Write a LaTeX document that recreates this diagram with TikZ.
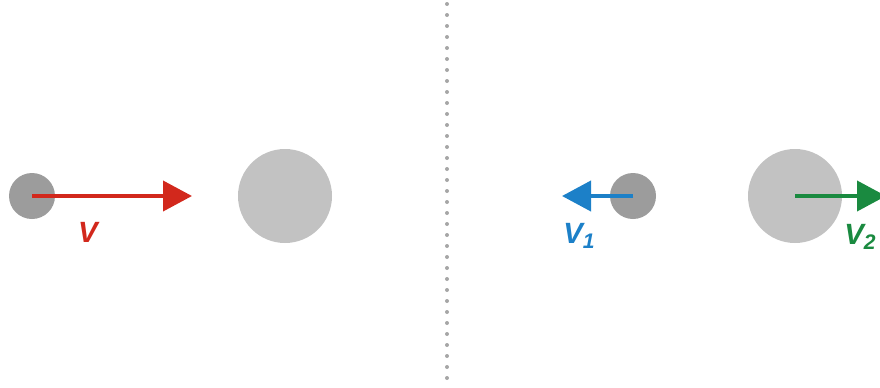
\documentclass[tikz,border=0pt]{standalone}
\usepackage{fontspec}
\setsansfont{Liberation Sans}
\usepackage{tikz}
\usetikzlibrary{positioning,arrows.meta}
\definecolor{ballsmall}{HTML}{9C9C9C}
\definecolor{ballbig}{HTML}{C2C2C2}
\definecolor{velred}{HTML}{D2281C}
\definecolor{velblue}{HTML}{1C80C8}
\definecolor{velgreen}{HTML}{1A8A40}

\begin{document}
\begin{tikzpicture}[
  x=0.03cm, y=-0.03cm,
  font=\sffamily\bfseries\itshape\fontsize{25}{28}\selectfont,
  ball/.style={circle, inner sep=0pt, draw=none},
  small/.style={ball, fill=ballsmall, minimum size=46*0.03cm},
  big/.style={ball, fill=ballbig, minimum size=94*0.03cm},
  vel/.style={-{Triangle[length=29*0.03cm, width=30*0.03cm]}, line width=4*0.03cm},
  lbl/.style={inner sep=0pt},
  sub/.style={},
]
\useasboundingbox (0,0) rectangle (880,387);
\clip (0,0) rectangle (880,387);

% Before the collision
\node[small] (m1) at (32,196) {};
\node[big] (m2) at (285,196) {};
\coordinate (vtip) at (192,196);
\draw[vel, velred] (m1.center) -- (vtip);
\node[lbl, text=velred] (v) at (88,232) {V};

% Separator
\draw[gray!70, line width=4*0.03cm, line cap=round, dash pattern=on 0pt off 11*0.03cm]
  (447,4) -- (447,387);

% After the collision
\node[small] (n1) at (633,196) {};
\node[big] (n2) at (795,196) {};
\coordinate (v1tip) at (562,196);
\coordinate (v2tip) at (886,196);
\draw[vel, velblue] (n1.center) -- (v1tip);
\draw[vel, velgreen] (n2.center) -- (v2tip);
\node[lbl, text=velblue] (v1) at (579,236) {V\raisebox{-0.3ex}{\fontsize{18}{20}\selectfont 1}};
\node[lbl, text=velgreen] (v2) at (860,237) {V\raisebox{-0.3ex}{\fontsize{18}{20}\selectfont 2}};

\end{tikzpicture}
\end{document}
